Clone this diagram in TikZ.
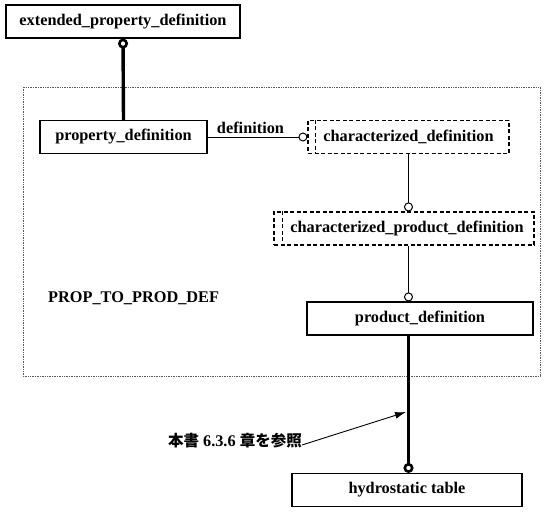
\documentclass[tikz,border=0pt]{standalone}
\usepackage{fontspec}
\setmainfont{Liberation Serif}
\newfontfamily\cjk{Noto Sans CJK JP}
\usetikzlibrary{arrows.meta}
\begin{document}
\begin{tikzpicture}[x=1pt,y=-1pt,
  every node/.style={font=\fontsize{16.3}{18}\selectfont\bfseries, inner sep=0pt},
  ent/.style={draw, line width=1.1pt, minimum height=33pt},
  abs/.style={draw, line width=1.1pt, minimum height=33pt, dash pattern=on 4pt off 2.5pt},
  thin/.style={line width=0.9pt},
  thick/.style={line width=3.4pt},
  opencirc/.style={-{Circle[open,length=9pt,width=9pt,line width=1pt]}},
  thickcirc/.style={-{Circle[open,length=10pt,width=10pt,line width=2.6pt]}}
]
\useasboundingbox (0,0) rectangle (550,513);
% schema frame
\draw[densely dotted, line width=0.7pt, gray!70!black] (23,87) rectangle (540,376);

\node[ent, minimum width=234pt] (ext) at (123,21.5) {extended\_property\_definition};
\node[ent, minimum width=167pt] (pd) at (123.5,137) {property\_definition};
\node[abs, minimum width=201pt] (cd) at (408.5,137) {characterized\_definition};
\node[abs, minimum width=260pt] (cpd) at (404,228.5) {\hspace*{6pt}characterized\_product\_definition};
\node[ent, minimum width=226pt] (prod) at (420,318.5) {product\_definition};
\node[ent, minimum width=230pt] (hs) at (407,490) {hydrostatic table};
\node[anchor=west] (schema) at (48,298) {PROP\_TO\_PROD\_DEF};
\node[anchor=east] (note) at (302,441) {{\cjk\fontsize{15.5}{17}\selectfont 本書} 6.3.6 {\cjk\fontsize{15.5}{17}\selectfont 章を参照}};

% inner dashed lines of abstract entities
\draw[line width=1.1pt, dash pattern=on 4pt off 2.5pt] ([xshift=8pt]cd.north west) -- ([xshift=8pt]cd.south west);
\draw[line width=1.1pt, dash pattern=on 4pt off 2.5pt] ([xshift=9pt]cpd.north west) -- ([xshift=9pt]cpd.south west);

% connectors
\draw[thick, thickcirc] (pd.north) -- (ext.south);
\draw[thin, opencirc] (pd.east) -- node[above=3pt, pos=0.43] (deflbl) {definition} (cd.west);
\draw[thin, opencirc] (cd.south) -- (cd.south |- cpd.north);
\draw[thin, opencirc] (cd.south |- cpd.south) -- (cd.south |- prod.north);
\draw[thick, thickcirc] (cd.south |- prod.south) -- (cd.south |- hs.north);
\coordinate (ref) at (406,412);
\draw[line width=0.9pt, -{Latex[length=11pt,width=7pt]}] ([yshift=-4pt]note.east) -- (ref);
\end{tikzpicture}
\end{document}
